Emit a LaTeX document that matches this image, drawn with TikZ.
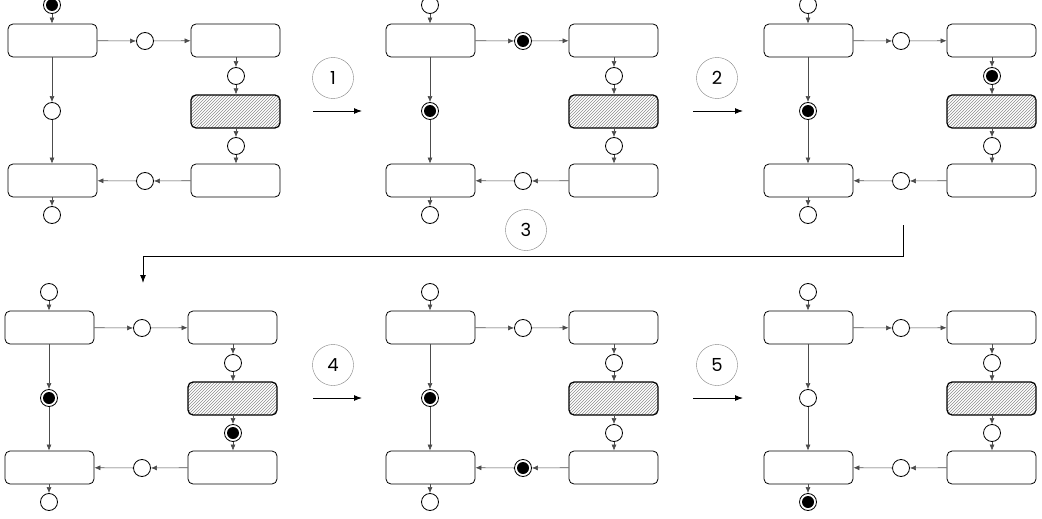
\documentclass[tikz,border=0pt]{standalone}
\usepackage{fontspec}
\setmainfont{Poppins}
\usetikzlibrary{arrows.meta,patterns}

\begin{document}
\begin{tikzpicture}[x=1pt, y=-1pt,
  box/.style={draw, rounded corners=5pt, line width=0.8pt, minimum width=89pt, minimum height=33pt},
  busy/.style={box, line width=1.2pt, pattern=north east lines, pattern color=black!45},
  place/.style={draw, circle, line width=0.8pt, minimum size=17pt, inner sep=0pt, fill=white},
  flow/.style={black!70, line width=0.6pt, -{Latex[length=6pt,width=5pt]}},
  stage/.style={draw=black!50, circle, minimum size=41pt, inner sep=0pt, font=\fontsize{18}{18}\selectfont},
  move/.style={line width=1pt, -{Latex[length=8pt,width=6pt]}}]

  \useasboundingbox (0,0) rectangle (1042,519);
  \clip (0,0) rectangle (1042,519);

  % six snapshots of the same net
  \foreach \i/\dx/\dy in {1/0/0, 2/378/0, 3/756/0, 4/-3/287, 5/378/287, 6/756/287} {
    \begin{scope}[shift={(\dx,\dy)}]
      \node[box]  (a\i) at (52.5,40.5) {};
      \node[box]  (b\i) at (235.5,40.5) {};
      \node[busy] (c\i) at (235.5,111.5) {};
      \node[box]  (d\i) at (235.5,180.5) {};
      \node[box]  (e\i) at (52.5,180.5) {};

      \node[place] (pin\i)  at (52,5) {};
      \node[place] (pab\i)  at (145,41) {};
      \node[place] (pbc\i)  at (236,76) {};
      \node[place] (pcd\i)  at (236,146) {};
      \node[place] (pde\i)  at (145,181) {};
      \node[place] (pae\i)  at (52,111) {};
      \node[place] (pout\i) at (52,215) {};

      \draw[flow] (pin\i) -- (pin\i |- a\i.north);
      \draw[flow] (a\i) -- (pab\i);
      \draw[flow] (pab\i) -- (b\i);
      \draw[flow] (pbc\i |- b\i.south) -- (pbc\i);
      \draw[flow] (pbc\i) -- (pbc\i |- c\i.north);
      \draw[flow] (pcd\i |- c\i.south) -- (pcd\i);
      \draw[flow] (pcd\i) -- (pcd\i |- d\i.north);
      \draw[flow] (d\i) -- (pde\i);
      \draw[flow] (pde\i) -- (e\i);
      \draw[flow] (pae\i |- a\i.south) -- (pae\i);
      \draw[flow] (pae\i) -- (pae\i |- e\i.north);
      \draw[flow] (pout\i |- e\i.south) -- (pout\i);
    \end{scope}
  }

  % marked places
  \foreach \t in {pin1, pab2, pae2, pbc3, pae3, pae4, pcd4, pae5, pde5, pout6}
    \fill (\t) circle (6pt);

  % steps between snapshots
  \node[stage] (n1) at (333,78) {1};
  \node[stage] (n2) at (717,78) {2};
  \node[stage] (n3) at (526,230) {3};
  \node[stage] (n4) at (333,365) {4};
  \node[stage] (n5) at (717,365) {5};

  \coordinate (s1) at (313,111);  \coordinate (t1) at (362,111);
  \coordinate (s2) at (693,111);  \coordinate (t2) at (743,111);
  \coordinate (s3) at (903,225);  \coordinate (t3) at (143,283);
  \coordinate (s4) at (313,398);  \coordinate (t4) at (362,398);
  \coordinate (s5) at (693,398);  \coordinate (t5) at (743,398);

  \draw[move] (s1) -- (t1);
  \draw[move] (s2) -- (t2);
  \draw[move] (s3) -- ++(0,31) -| (t3);
  \draw[move] (s4) -- (t4);
  \draw[move] (s5) -- (t5);
\end{tikzpicture}
\end{document}
